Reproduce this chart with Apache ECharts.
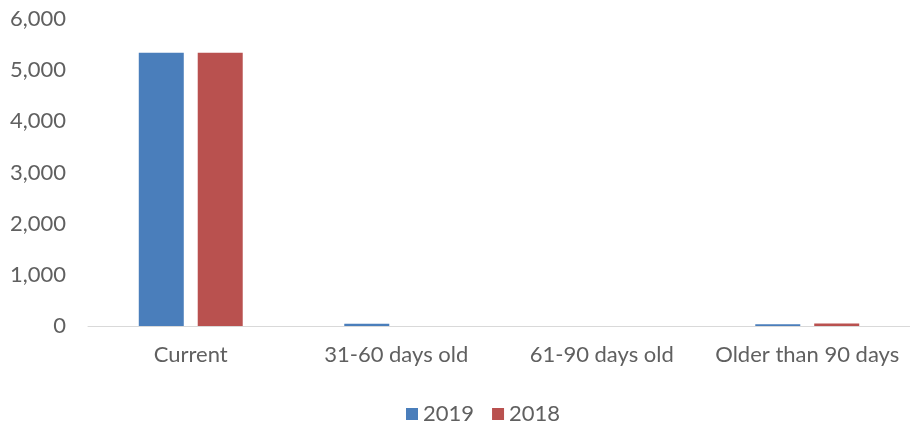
<!DOCTYPE html>
<html><head><meta charset="utf-8">
<script src="https://cdn.jsdelivr.net/npm/echarts@6/dist/echarts.min.js"></script>
<style>html,body{margin:0;padding:0;background:#fff}#c{width:910px;height:423px}</style>
</head><body><div id="c"></div>
<script>
const categories = ['Current', '31-60 days old', '61-90 days old', 'Older than 90 days'];
const seriesNames = ['2019', '2018'];
const values2019 = [5340, 45, 0, 35];
const values2018 = [5340, 0, 0, 50];
const yTicks = [0, 1000, 2000, 3000, 4000, 5000, 6000];

const chart = echarts.init(document.getElementById('c'));
const font = 'Lato, "Open Sans", sans-serif';
const textColor = '#606060';
chart.setOption({
  animation: false,
  grid: { left: 88, right: 0, top: 19, bottom: 97, containLabel: false },
  legend: {
    top: 398, left: 401, itemWidth: 12, itemHeight: 12, itemGap: 18,
    icon: 'rect',
    textStyle: { fontFamily: font, fontSize: 22, color: textColor },
    data: seriesNames
  },
  xAxis: {
    type: 'category', data: categories,
    axisLine: { lineStyle: { color: '#d9d9d9', width: 1 } },
    axisTick: { show: false },
    axisLabel: { fontFamily: font, fontSize: 22, color: textColor, margin: 18, interval: 0 }
  },
  yAxis: {
    type: 'value', min: yTicks[0], max: yTicks[yTicks.length - 1], interval: 1000,
    splitLine: { show: false },
    axisLine: { show: false }, axisTick: { show: false },
    axisLabel: { fontFamily: font, fontSize: 22, color: textColor, margin: 22,
      formatter: v => v.toLocaleString('en-US') }
  },
  series: [
    { name: seriesNames[0], type: 'bar', data: values2019, barWidth: 45, barGap: '31%',
      itemStyle: { color: '#4a7ebb' } },
    { name: seriesNames[1], type: 'bar', data: values2018, barWidth: 45,
      itemStyle: { color: '#b9514f' } }
  ]
});
</script></body></html>
